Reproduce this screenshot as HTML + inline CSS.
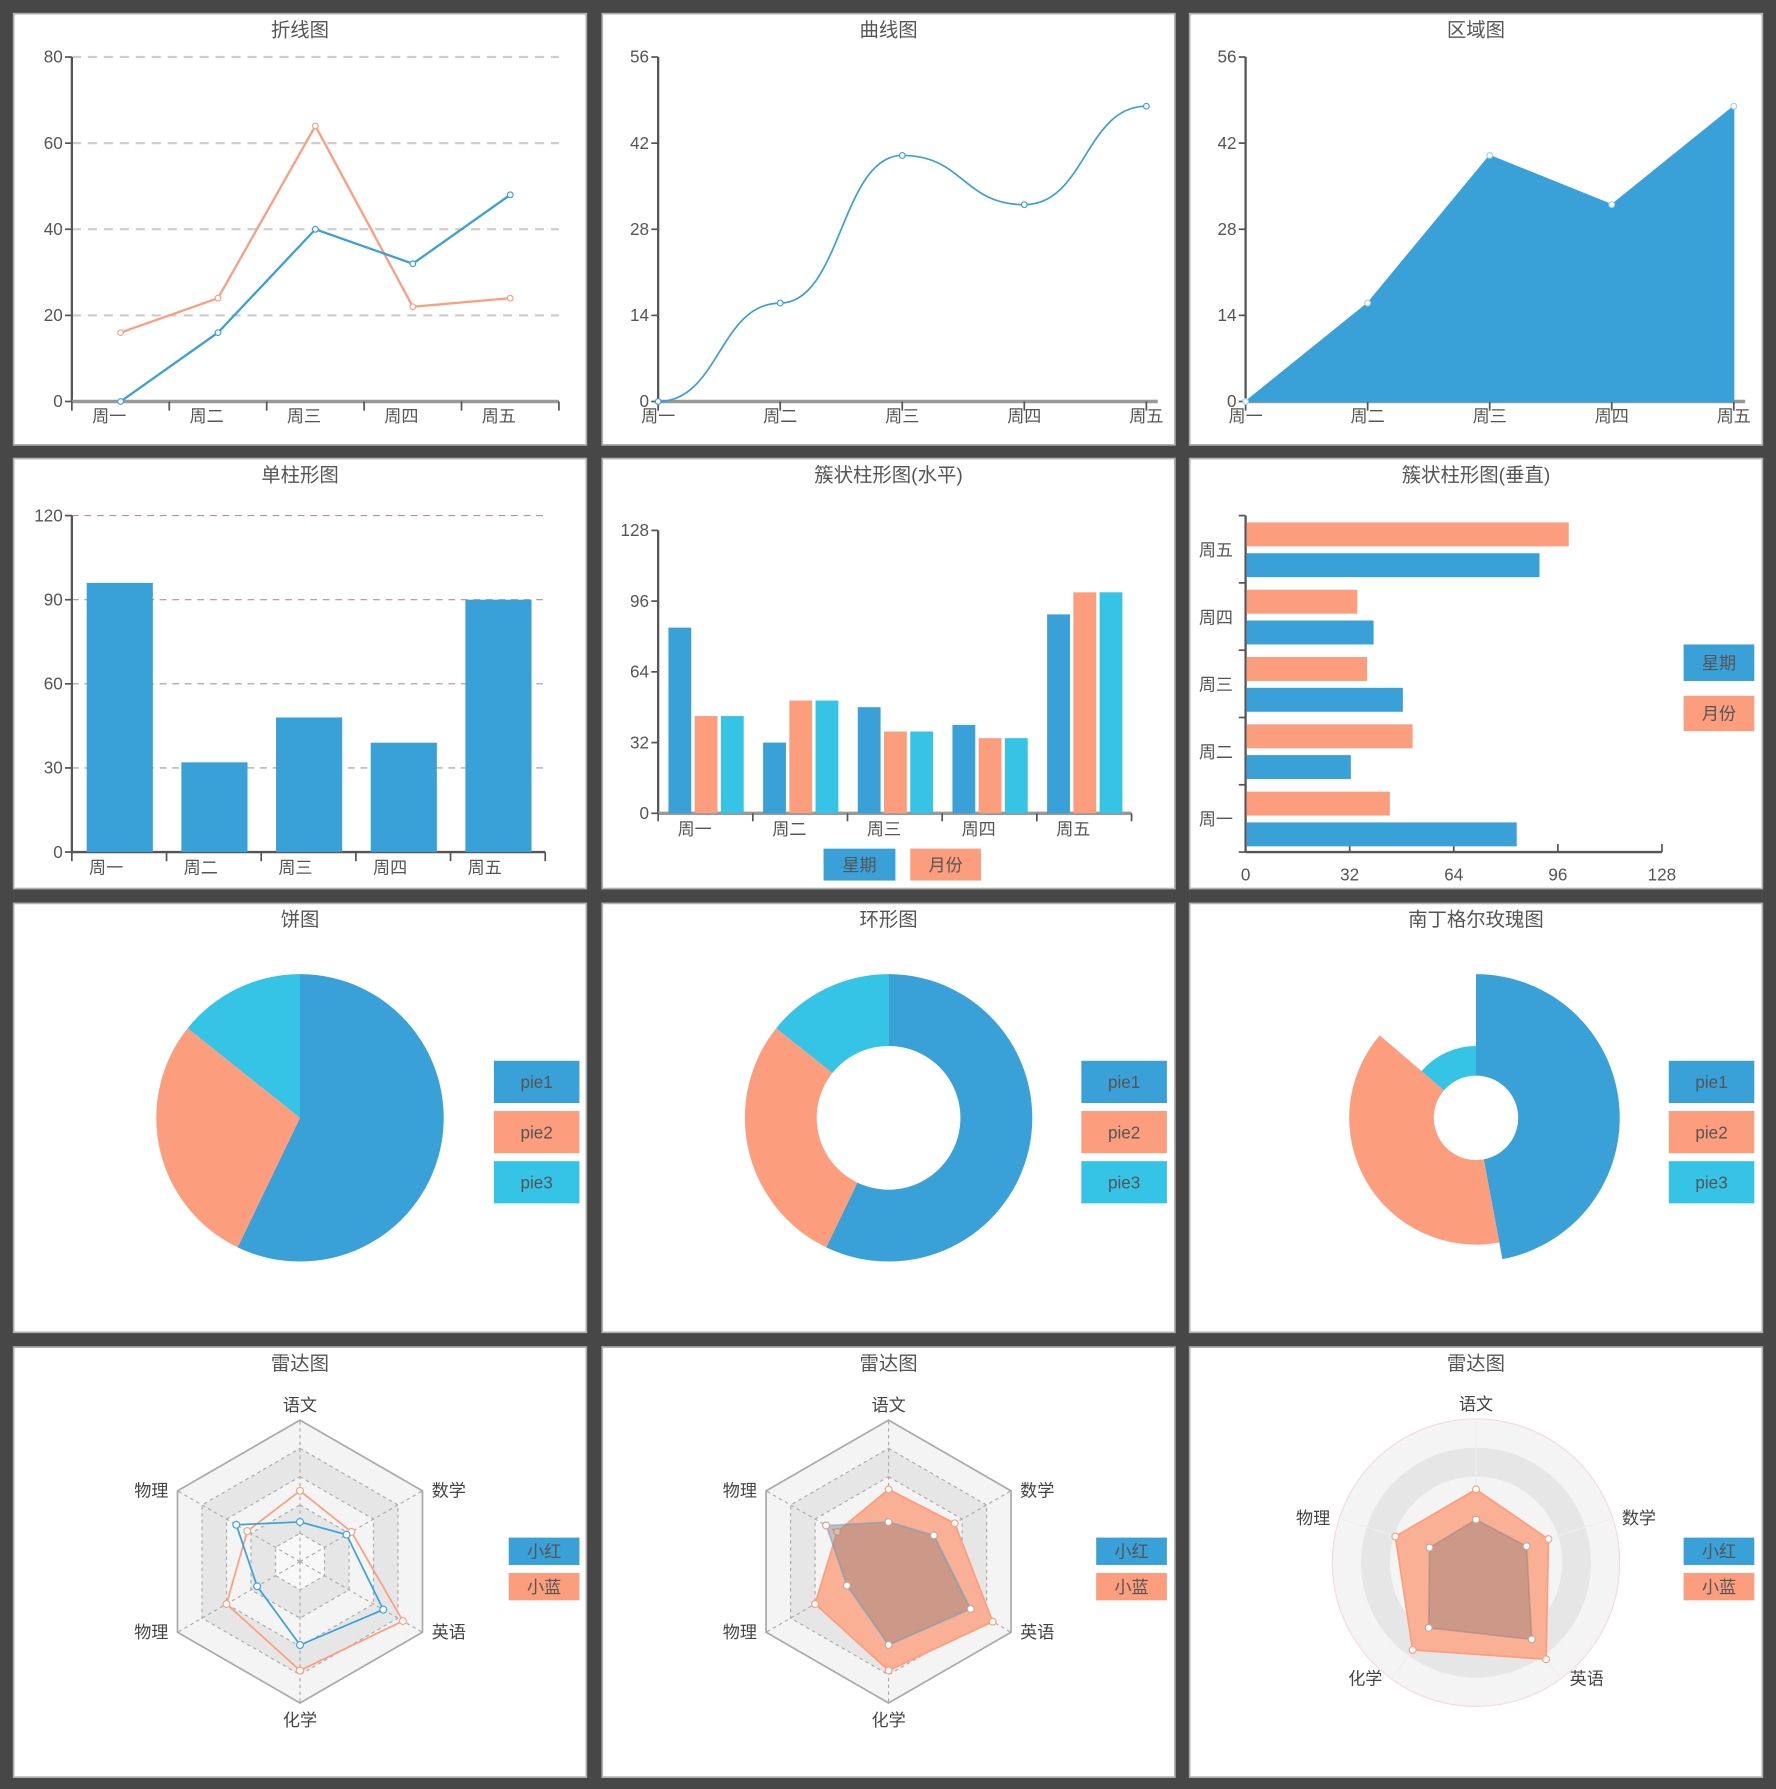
<!DOCTYPE html>
<html><head><meta charset="utf-8">
<style>
html,body{margin:0;padding:0;background:#474747;}
svg{display:block;}
text{font-family:"Liberation Sans","Noto Sans CJK SC",sans-serif;}
</style></head>
<body>
<svg id="root" width="1776" height="1789" viewBox="0 0 1557 1568.4" preserveAspectRatio="none" xmlns="http://www.w3.org/2000/svg"></svg>
<script>
// ---- data ----
const days = ['周一','周二','周三','周四','周五'];
const lineBlue = [0,16,40,32,48];
const lineOrange = [16,24,64,22,24];
const lineTicks = [0,20,40,60,80];
const curveVals = [0,16,40,32,48];
const curveTicks = [0,14,28,42,56];
const areaVals = [0,16,40,32,48];
const barVals = [96,32,48,39,90];
const barTicks = [0,30,60,90,120];
const grpWeek = [84,32,48,40,90];
const grpMonth = [44,51,37,34,100];
const grpThird = [44,51,37,34,100];
const grpTicks = [0,32,64,96,128];
const hWeek = [83,32,48,39,90];
const hMonth = [44,51,37,34,99];
const hTicks = [0,32,64,96,128];
const pieNames = ['pie1','pie2','pie3'];
const pieVals = [60,30,15];
const roseVals = [60,50,17.5];
const radarAxes6 = ['语文','数学','英语','化学','物理','物理'];
const radar1Red = [28,38,68,59,35,52];
const radar1Blue = [50,42,84,77,60,43];
const radar2Red = [28,37,67,59,34,51];
const radar2Blue = [51,54,85,77,60,42];
const radarAxes5 = ['语文','数学','英语','化学','物理'];
const radar3Red = [30,37,66,56,34];
const radar3Blue = [51,53,83,75,59];
const legendNames = ['小红','小蓝'];
const barLegend = ['星期','月份'];

const C_BLUE='#3aa0d8', C_OR='#fc9e7e', C_CY='#35c3e6';
const NS='http://www.w3.org/2000/svg';
const root=document.getElementById('root');
function mk(tag,attrs,parent,txt){const e=document.createElementNS(NS,tag);for(const k in attrs)e.setAttribute(k,attrs[k]);if(txt!==undefined)e.textContent=txt;(parent||root).appendChild(e);return e;}
function lin(d0,d1,r0,r1){return v=>r0+(v-d0)/(d1-d0)*(r1-r0);}

const colsX=[12,528,1043], rowsY=[12,402,792,1181], PW=502;
const rowsH=[378,377,376,377];
const titles=['折线图','曲线图','区域图','单柱形图','簇状柱形图(水平)','簇状柱形图(垂直)','饼图','环形图','南丁格尔玫瑰图','雷达图','雷达图','雷达图'];
const panelNames=['line-chart','curve-chart','area-chart','bar-chart','grouped-bar-chart','horizontal-bar-chart','pie-chart','donut-chart','rose-chart','radar-chart-1','radar-chart-2','radar-chart-3'];
const G=[];
for(let r=0;r<4;r++)for(let c=0;c<3;c++){
  const i=r*3+c;
  const g=mk('g',{});
  
  
  const bg=mk('rect',{x:colsX[c],y:rowsY[r],width:PW,height:rowsH[r],fill:'#fff',stroke:'#b0b0b0','stroke-width':1.5},g);
  
  
  const t=mk('text',{x:colsX[c]+PW/2,y:rowsY[r]+20,'text-anchor':'middle','font-size':17,fill:'#555'},g,titles[i]);
  
  
  G.push(g);
}
function label(g,x,y,s,anchor,size,fill,name){const t=mk('text',{x:x,y:y,'text-anchor':anchor||'middle','font-size':size||15,fill:fill||'#555'},g,s);return t;}
function line(g,x1,y1,x2,y2,st,w,dash,name){const l=mk('line',{x1:x1,y1:y1,x2:x2,y2:y2,stroke:st,'stroke-width':w||1},g);if(dash)l.setAttribute('stroke-dasharray',dash);return l;}

function yAxis(g,x,top,bot,ticks,sc){
  line(g,x,top,x,bot,'#555',2,null,'y-axis');
  ticks.forEach(v=>{const y=sc(v);line(g,x-6,y,x,y,'#555',1.5,null,'y-tick');label(g,x-8,y+5,String(v),'end',15,'#555','y-tick-label');});
}

// ---- 1 line chart ----
(function(){
  const g=G[0],x0=63,x1=490,y=lin(0,80,352,50),bw=(x1-x0)/5;
  lineTicks.slice(1).forEach(v=>line(g,x0,y(v),x1,y(v),'#d3cccc',2,'8 6','grid-line'));
  yAxis(g,x0,50,352,lineTicks,y);
  line(g,x0,352,x1,352,'#999',3,null,'x-axis');
  for(let i=0;i<=5;i++)line(g,x0+i*bw,352,x0+i*bw,360,'#555',1.5,null,'x-tick');
  days.forEach((d,i)=>label(g,x0+bw*(i+0.5)-10,370,d,'middle',15,'#555','x-tick-label'));
  [[lineOrange,C_OR,'series-orange'],[lineBlue,C_BLUE,'series-blue']].forEach(([arr,col,nm])=>{
    const pts=arr.map((v,i)=>[x0+bw*(i+0.5),y(v)]);
    const p=mk('polyline',{points:pts.map(p=>p.join(',')).join(' '),fill:'none',stroke:col,'stroke-width':2},g);
    
    
    pts.forEach(pt=>{const c=mk('circle',{cx:pt[0],cy:pt[1],r:2.5,fill:'#fff',stroke:col,'stroke-width':1},g);
      
      });
  });
})();

function smoothH(pts){let d='M'+pts[0].join(',');for(let i=0;i<pts.length-1;i++){const p1=pts[i],p2=pts[i+1],dx=(p2[0]-p1[0])*0.5;
  d+=' C'+(p1[0]+dx)+','+p1[1]+' '+(p2[0]-dx)+','+p2[1]+' '+p2[0]+','+p2[1];}return d;}

// ---- 2 curve, 3 area ----
function xy(gi,x0,vals,ticks,isArea){
  const g=G[gi],step=107,y=lin(0,56,352,50);
  yAxis(g,x0,50,352,ticks,y);
  line(g,x0,352,x0+step*4+10,352,'#999',3,null,'x-axis');
  days.forEach((d,i)=>{line(g,x0+i*step,352,x0+i*step,360,'#555',1.5,null,'x-tick');label(g,x0+i*step,370,d,'middle',15,'#555','x-tick-label');});
  const pts=vals.map((v,i)=>[x0+i*step,y(v)]);
  if(isArea){
    const a=mk('path',{d:'M'+pts.map(p=>p.join(',')).join(' L')+' L'+pts[pts.length-1][0]+',352 L'+x0+',352 Z',fill:C_BLUE,stroke:C_BLUE},g);
    
    
  } else {
    const p=mk('path',{d:smoothH(pts),fill:'none',stroke:C_BLUE,'stroke-width':1.5},g);
    
    
  }
  pts.forEach(pt=>{const c=mk('circle',{cx:pt[0],cy:pt[1],r:2.5,fill:'#fff',stroke:isArea?'#9fd0ee':C_BLUE,'stroke-width':1},g);
    
    });
}
xy(1,577,curveVals,curveTicks,false);
xy(2,1092,areaVals,curveTicks,true);

// ---- 4 single bar ----
(function(){
  const g=G[3],x0=63,bw=83,y=lin(0,120,747,452);
  barTicks.slice(1).forEach(v=>line(g,x0,y(v),478,y(v),'#b89098',1,'6 5','grid-line'));
  yAxis(g,x0,452,747,barTicks,y);
  line(g,x0,747,478,747,'#555',2,null,'x-axis');
  days.forEach((d,i)=>{line(g,x0+i*bw,747,x0+i*bw,755,'#555',1.5,null,'x-tick');label(g,x0+i*bw+30,766,d,'middle',15,'#555','x-tick-label');});
  line(g,478,747,478,755,'#555',1.5,null,'x-tick');
  barVals.forEach((v,i)=>{const b=mk('rect',{x:x0+i*bw+13,y:y(v),width:58,height:747-y(v),fill:C_BLUE},g);
    
    });
})();

function legendBox(g,x,y,w,h,col,txt,name){
  const r=mk('rect',{x:x,y:y,width:w,height:h,fill:col},g);
  
  
  label(g,x+w/2,y+h/2+5.5,txt,'middle',15,'#555','legend-label');
}

// ---- 5 grouped vertical ----
(function(){
  const g=G[4],x0=577,bw=83,y=lin(0,128,713,465);
  yAxis(g,x0,465,713,grpTicks,y);
  line(g,x0,713,992,713,'#999',3,null,'x-axis');
  for(let i=0;i<=5;i++)line(g,x0+i*bw,713,x0+i*bw,720,'#555',1.5,null,'x-tick');
  days.forEach((d,i)=>label(g,x0+i*bw+32,732,d,'middle',15,'#555','x-tick-label'));
  [[grpWeek,C_BLUE,'week'],[grpMonth,C_OR,'month'],[grpThird,C_CY,'third']].forEach(([arr,col,nm],k)=>{
    arr.forEach((v,i)=>{const b=mk('rect',{x:x0+i*bw+9+k*23,y:y(v),width:20,height:713-y(v),fill:col},g);
      
      });
  });
  legendBox(g,722,744,63,28,C_BLUE,barLegend[0],'legend-week');
  legendBox(g,798,744,62,28,C_OR,barLegend[1],'legend-month');
})();

// ---- 6 horizontal bars ----
(function(){
  const g=G[5],x=lin(0,128,1092,1457),yb=747,bh=59;
  line(g,1092,452,1092,747,'#555',2,null,'y-axis');
  line(g,1092,747,1457,747,'#555',2,null,'x-axis');
  hTicks.forEach(v=>{line(g,x(v),747,x(v),740,'#555',1.5,null,'x-tick');label(g,x(v),772,String(v),'middle',15,'#555','x-tick-label');});
  for(let i=0;i<=5;i++)line(g,1086,yb-i*bh,1092,yb-i*bh,'#555',1.5,null,'y-tick');
  days.forEach((d,i)=>{const top=yb-(i+1)*bh;
    label(g,1066,top+bh/2+6,d,'middle',15,'#555','y-tick-label');
    const o=mk('rect',{x:1093,y:top+6,width:x(hMonth[i])-1092,height:21,fill:C_OR},g);
    
    
    const b=mk('rect',{x:1093,y:top+33,width:x(hWeek[i])-1092,height:21,fill:C_BLUE},g);
    
    
  });
  legendBox(g,1476,565,62,32,C_BLUE,barLegend[0],'legend-week');
  legendBox(g,1476,610,62,31,C_OR,barLegend[1],'legend-month');
})();

// ---- pies ----
const pieCols=[C_BLUE,C_OR,C_CY];
function arc(cx,cy,r0,r1,a0,a1){
  const P=(r,a)=>[cx+r*Math.sin(a),cy-r*Math.cos(a)];const lg=(a1-a0)>Math.PI?1:0;
  const [x1,y1]=P(r1,a0),[x2,y2]=P(r1,a1);
  if(r0<=0)return `M${cx},${cy} L${x1},${y1} A${r1},${r1} 0 ${lg} 1 ${x2},${y2} Z`;
  const [x3,y3]=P(r0,a1),[x4,y4]=P(r0,a0);
  return `M${x1},${y1} A${r1},${r1} 0 ${lg} 1 ${x2},${y2} L${x3},${y3} A${r0},${r0} 0 ${lg} 0 ${x4},${y4} Z`;
}
function pie(gi,cx,lx,vals,r0,rose){
  const g=G[gi],tot=vals.reduce((a,b)=>a+b,0),mx=Math.max(...vals);let a=0;
  vals.forEach((v,i)=>{const da=v/tot*2*Math.PI;
    const r1=rose?r0+(126-r0)*v/mx:126;
    const p=mk('path',{d:arc(cx,980,r0,r1,a,a+da),fill:pieCols[i]},g);
    
    
    a+=da;});
  pieNames.forEach((n,i)=>legendBox(g,lx,930+i*44,75,37,pieCols[i],n,'legend-'+n));
}
pie(6,263,433,pieVals,0,false);
pie(7,779,948,pieVals,63,false);
pie(8,1294,1463,roseVals,37,true);

// ---- radars ----
function radar(gi,cx,cy,R,axes,red,blue,circle,filled,lx){
  const g=G[gi],n=axes.length,ang=i=>-Math.PI/2+i*2*Math.PI/n;
  const P=(r,i)=>[cx+r*Math.cos(ang(i)),cy+r*Math.sin(ang(i))];
  const cols=['#f4f4f4','#e6e6e6','#f4f4f4','#e6e6e6','#f8f8f8'];
  for(let k=5;k>=1;k--){const r=R*k/5;let s;
    if(circle){s=mk('circle',{cx:cx,cy:cy,r:r,fill:cols[5-k],stroke:k==5?'#f0dcdc':'none'},g);}
    else{s=mk('polygon',{points:axes.map((_,i)=>P(r,i).join(',')).join(' '),fill:cols[5-k],stroke:'#aaa','stroke-width':k==5?1.5:1,'stroke-dasharray':k==5?'':'3 3'},g);}
    
    }
  axes.forEach((a,i)=>{const e=P(R,i);line(g,cx,cy,e[0],e[1],circle?'#eee':'#aaa',1,circle?null:'3 3','radar-axis');
    const cs=Math.cos(ang(i)),sn=Math.sin(ang(i));
    let anc='middle',lxp=e[0],lyp=e[1];
    if(cs>0.2){anc='start';lxp+=8;lyp+=5;}
    else if(cs<-0.2){anc='end';lxp-=8;lyp+=5;}
    else {lyp+= sn<0 ? -8 : 20;}
    label(g,lxp,lyp,a,anc,15,'#444','radar-axis-label');});
  [[blue,C_OR,'series-xiaolan'],[red,C_BLUE,'series-xiaohong']].forEach(([arr,col,nm],k)=>{
    const pts=arr.map((v,i)=>P(R*v/100,i));
    let fill='none';
    if(filled){fill=k==0?'#f9b095':'rgba(160,130,125,0.5)';}
    const p=mk('polygon',{points:pts.map(p=>p.join(',')).join(' '),fill:fill,stroke:(filled&&k==1)?'rgba(160,130,125,0.5)':col,'stroke-width':1.5},g);
    if(filled&&k==1&&!circle){p.setAttribute('stroke',C_BLUE);p.setAttribute('stroke-opacity','0.4');}
    
    
    pts.forEach(pt=>{const c=mk('circle',{cx:pt[0],cy:pt[1],r:3,fill:'#fff',stroke:(filled&&k==1)?'#c9a59a':col,'stroke-width':1},g);
      
      });
  });
  legendBox(g,lx,1348,62,24,C_BLUE,legendNames[0],'legend-xiaohong');
  legendBox(g,lx,1379,62,24,C_OR,legendNames[1],'legend-xiaolan');
}
radar(9,263,1369,124,radarAxes6,radar1Red,radar1Blue,false,false,446);
radar(10,779,1369,124,radarAxes6,radar2Red,radar2Blue,false,true,961);
radar(11,1294,1370,126,radarAxes5,radar3Red,radar3Blue,true,true,1476);
</script>
</body></html>
